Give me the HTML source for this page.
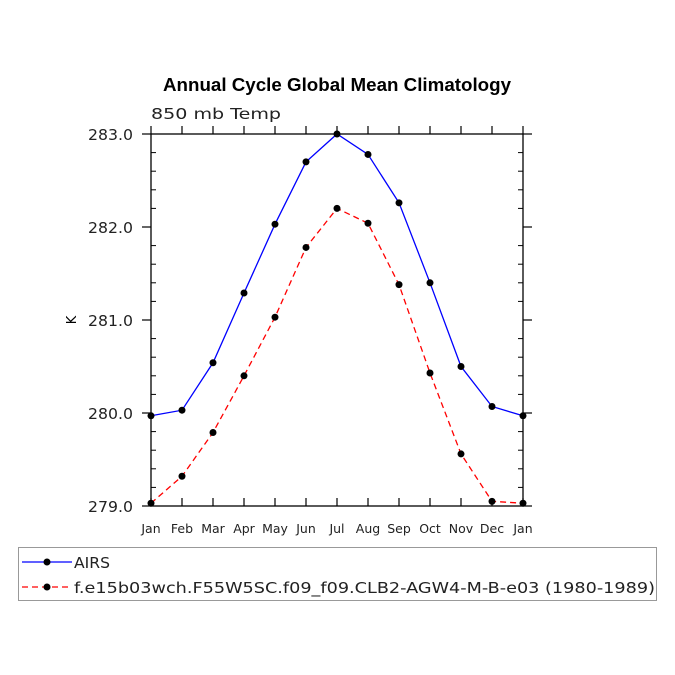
<!DOCTYPE html>
<html><head><meta charset="utf-8"><style>
html,body{margin:0;padding:0;background:#fff;}
svg{display:block;font-family:"DejaVu Sans","Liberation Sans",sans-serif;}
</style></head><body>
<svg id="chart" width="675" height="675" viewBox="0 0 675 675">
<text x="163" y="91" textLength="348" lengthAdjust="spacingAndGlyphs" font-family="Liberation Sans, sans-serif" font-weight="bold" font-size="18">Annual Cycle Global Mean Climatology</text>
<text x="151" y="119" textLength="130" lengthAdjust="spacingAndGlyphs" font-size="15" fill="#222">850 mb Temp</text>
<text x="76" y="320" font-size="13" text-anchor="middle" transform="rotate(-90 76 320)">K</text>
<g id="axes"></g>
<g id="series"></g>
<g>
<rect x="18.5" y="547.5" width="638" height="53" fill="none" stroke="#999"/>
<g>
<line x1="22" y1="562" x2="72" y2="562" stroke="#0000ff" stroke-width="1.3"/>
<circle cx="47" cy="562" r="3.5" fill="#000"/>
<text x="74" y="568" textLength="36" lengthAdjust="spacingAndGlyphs" font-size="15" fill="#222">AIRS</text>
</g>
<g>
<line x1="22" y1="587" x2="72" y2="587" stroke="#ff0000" stroke-width="1.3" stroke-dasharray="6,4"/>
<circle cx="47" cy="587" r="3.5" fill="#000"/>
<text x="74" y="593" textLength="581" lengthAdjust="spacingAndGlyphs" font-size="15" fill="#222">f.e15b03wch.F55W5SC.f09_f09.CLB2-AGW4-M-B-e03 (1980-1989)</text>
</g>
</g>
</svg>
<script>
const months = ["Jan","Feb","Mar","Apr","May","Jun","Jul","Aug","Sep","Oct","Nov","Dec","Jan"];
const airs = [279.97,280.03,280.54,281.29,282.03,282.70,283.00,282.78,282.26,281.40,280.50,280.07,279.97];
const model = [279.03,279.32,279.79,280.40,281.03,281.78,282.20,282.04,281.38,280.43,279.56,279.05,279.03];
const yTicks = [279,280,281,282,283];
const yTickLabels = ["279.0","280.0","281.0","282.0","283.0"];
const NS="http://www.w3.org/2000/svg";
const L=151,R=523,T=134,B=506,yMin=279,yMax=283;
const xs=i=>L+(R-L)*i/(months.length-1);
const ys=v=>B-(v-yMin)/(yMax-yMin)*(B-T);
function mk(tag,attrs,parent){const e=document.createElementNS(NS,tag);for(const k in attrs)e.setAttribute(k,attrs[k]);parent.appendChild(e);return e;}
const ax=document.getElementById('axes');
const frame=mk('rect',{x:L,y:T,width:R-L,height:B-T,fill:'none',stroke:'#000','stroke-width':1.3},ax);


months.forEach((m,i)=>{
  const x=xs(i);
  mk('line',{x1:x,y1:B,x2:x,y2:B-8,stroke:'#000','stroke-width':1.2},ax);
  mk('line',{x1:x,y1:T,x2:x,y2:T-8,stroke:'#000','stroke-width':1.2},ax);
  const t=mk('text',{x:x,y:B+27,'text-anchor':'middle','font-size':12.5,fill:'#222'},ax);
  t.textContent=m;
  
  
});
for(let v=yMin;v<=yMax+1e-9;v+=0.2){
  const y=ys(v);const major=Math.abs(v-Math.round(v))<1e-6;
  if(major){
    mk('line',{x1:L-9,y1:y,x2:L,y2:y,stroke:'#000','stroke-width':1.2},ax);
    mk('line',{x1:R,y1:y,x2:R+9,y2:y,stroke:'#000','stroke-width':1.2},ax);
  }else{
    mk('line',{x1:L,y1:y,x2:L+5,y2:y,stroke:'#000','stroke-width':1},ax);
    mk('line',{x1:R-5,y1:y,x2:R,y2:y,stroke:'#000','stroke-width':1},ax);
  }
}
yTicks.forEach((v,i)=>{
  const t=mk('text',{x:L-18,y:ys(v)+6,'text-anchor':'end','font-size':15,fill:'#222',textLength:45,lengthAdjust:'spacingAndGlyphs'},ax);
  t.textContent=yTickLabels[i];
  
  
});
const sg=document.getElementById('series');
function series(vals,color,dash,name){
  const g=mk('g',{},sg);
  
  
  const pts=vals.map((v,i)=>xs(i)+','+ys(v)).join(' ');
  const a={points:pts,fill:'none',stroke:color,'stroke-width':1.3};
  if(dash)a['stroke-dasharray']=dash;
  mk('polyline',a,g);
  vals.forEach((v,i)=>{
    const c=mk('circle',{cx:xs(i),cy:ys(v),r:3.5,fill:'#000'},g);
    
    
  });
}
series(airs,'#0000ff',null,'series-airs');
series(model,'#ff0000','6,4','series-model');
</script>
</body></html>
